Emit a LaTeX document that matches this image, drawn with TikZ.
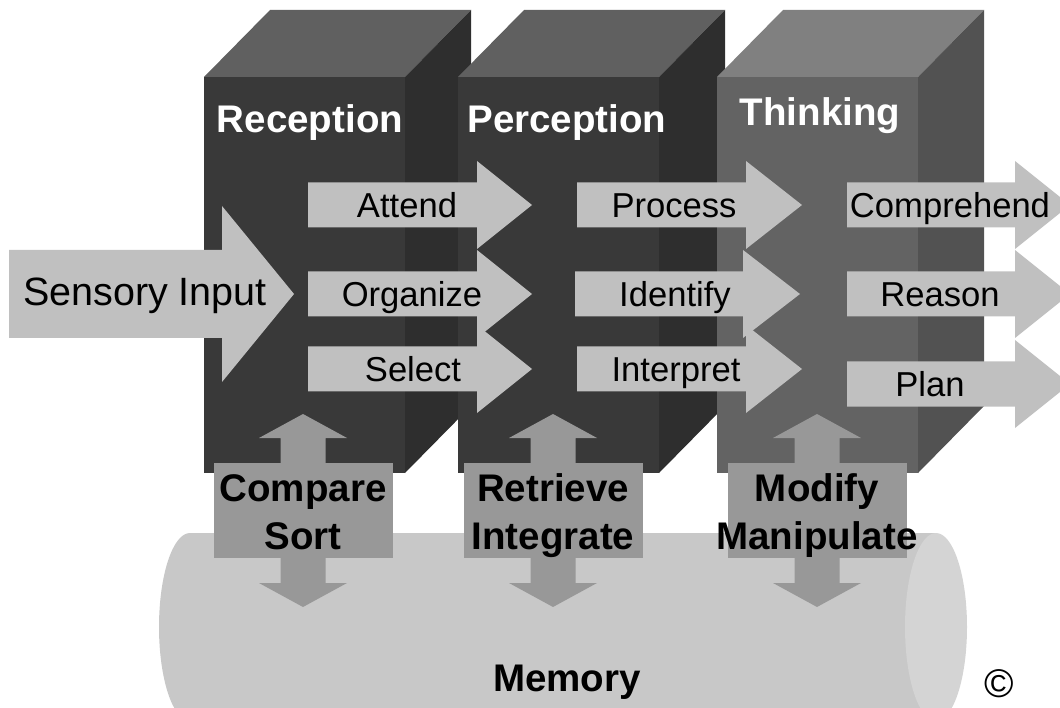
\documentclass[tikz,border=0pt]{standalone}
\usepackage{fontspec}
\setmainfont{Liberation Sans}
\usepackage{tikz}
\usetikzlibrary{positioning}
\definecolor{front1}{HTML}{393939}
\definecolor{side1}{HTML}{2E2E2E}
\definecolor{top1}{HTML}{606060}
\definecolor{front3}{HTML}{636363}
\definecolor{side3}{HTML}{525252}
\definecolor{top3}{HTML}{808080}
\definecolor{arrowgray}{HTML}{C0C0C0}
\definecolor{dblgray}{HTML}{989898}
\definecolor{memgray}{HTML}{C8C8C8}
\definecolor{memend}{HTML}{D4D4D4}

\begin{document}
\begin{tikzpicture}[x=1pt,y=-1pt,
   head/.style={text=white,font=\bfseries\fontsize{38.5}{40}\selectfont,inner sep=0pt,anchor=base},
   lbl/.style={font=\fontsize{34.6}{36}\selectfont,inner sep=0pt,anchor=base},
   blbl/.style={font=\bfseries\fontsize{38.5}{40}\selectfont,inner sep=0pt,anchor=base},
   fat/.style={fill=arrowgray},
   dbl/.style={fill=dblgray}]
   \clip (0,0) rectangle (1060,708);

   % the three stages
   \foreach \x/\c in {204/1,458/1,717/3}{
   \fill[top\c] (\x,77) -- ++(66,-67) -- ++(201,0) -- ++(-66,67) -- cycle;
   \fill[side\c] (\x+201,77) -- ++(66,-67) -- ++(0,396) -- ++(-66,67) -- cycle;
   \fill[front\c] (\x,77) rectangle ++(201,396);
   }
   \node[head] (rec) at (310,133) {Reception};
   \node[head] (per) at (567,133) {Perception};
   \node[head] (thi) at (820,126) {Thinking};

   \fill[fat] (9,250) -- (222,250) -- (222,206) -- (294,294) -- (222,382) -- (222,338) -- (9,338) -- cycle;
   \node[lbl,font=\fontsize{39.5}{41}\selectfont] (sens) at (145,306) {Sensory Input};

   \foreach \l/\h/\t/\y/\tx/\txt[count=\i] in {308/477/532/205/407/Attend,
      308/477/532/294/412/Organize, 308/477/532/369/413/Select,
      577/746/802/205/674/Process, 575/743/800/294/675/Identify,
      577/746/802/369/676/Interpret, 847/1015/1070/205/950/Comprehend,
      847/1015/1070/294/940/Reason, 847/1015/1070/384/930/Plan}{
   \fill[fat] (\l,\y-22.5) -- (\h,\y-22.5) -- (\h,\y-44) -- (\t,\y) -- (\h,\y+44)
      -- (\h,\y+22.5) -- (\l,\y+22.5) -- cycle;
   \node[lbl] (a\i) at (\tx,\y+12.6) {\txt};
   }

   % memory
   \fill[memgray] (190,627) ellipse [x radius=31,y radius=94];
   \fill[memgray] (190,533) rectangle (936,721);
   \fill[memend] (936,627) ellipse [x radius=31,y radius=94];

   \foreach \x/\a/\b[count=\i] in {303/Compare/Sort,553/Retrieve/Integrate,817/Modify/Manipulate}{
   \fill[dbl] (\x,414) -- (\x+44,438) -- (\x+22.5,438) -- (\x+22.5,583) -- (\x+44,583)
      -- (\x,607) -- (\x-44,583) -- (\x-22.5,583) -- (\x-22.5,438) -- (\x-44,438) -- cycle;
   \fill[dbl] (\x-89.5,463) rectangle (\x+89.5,558);
   \node[blbl] (m\i) at (\x,501) {\a};
   \node[blbl] (n\i) at (\x,549) {\b};
   }
   \node[blbl] (mem) at (567,691) {Memory};
   \node[font=\fontsize{40}{42}\selectfont,inner sep=0pt] (copy) at (999,684) {©};
\end{tikzpicture}
\end{document}
